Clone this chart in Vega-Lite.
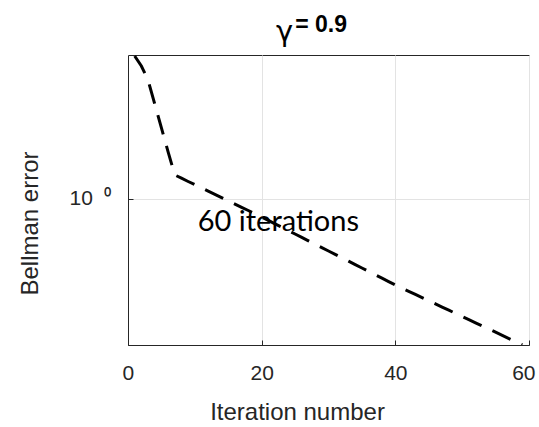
{
  "$schema": "https://vega.github.io/schema/vega-lite/v6.json",
  "width": 401,
  "height": 290,
  "autosize": "none",
  "padding": {"left": 128, "top": 55, "right": 10, "bottom": 82},
  "background": "white",
  "config": {
    "view": {"stroke": "#262626", "strokeWidth": 1},
    "font": "Liberation Sans"
  },
  "title": {
    "text": "γ",
    "subtitle": "\u200b\u00a0\u00a0\u00a0= 0.9",
    "anchor": "start",
    "frame": "group",
    "align": "left",
    "dx": 148,
    "font": "DejaVu Sans",
    "fontSize": 29,
    "fontWeight": "normal",
    "color": "#000000",
    "subtitleFont": "Liberation Sans",
    "subtitleFontSize": 23,
    "subtitleFontWeight": "bold",
    "subtitleColor": "#000000",
    "subtitlePadding": -33,
    "offset": 4
  },
  "datasets": {
    "curve": [
      {"iteration": 1, "error": 7.83},
      {"iteration": 2, "error": 6.78},
      {"iteration": 3, "error": 5.54},
      {"iteration": 4, "error": 3.93},
      {"iteration": 5, "error": 2.78},
      {"iteration": 6, "error": 1.97},
      {"iteration": 7, "error": 1.413},
      {"iteration": 8, "error": 1.349},
      {"iteration": 9, "error": 1.286},
      {"iteration": 10, "error": 1.229},
      {"iteration": 11, "error": 1.173},
      {"iteration": 12, "error": 1.119},
      {"iteration": 13, "error": 1.069},
      {"iteration": 14, "error": 1.02},
      {"iteration": 15, "error": 0.9744},
      {"iteration": 16, "error": 0.9292},
      {"iteration": 17, "error": 0.8873},
      {"iteration": 18, "error": 0.8474},
      {"iteration": 19, "error": 0.8082},
      {"iteration": 20, "error": 0.7718},
      {"iteration": 21, "error": 0.735},
      {"iteration": 22, "error": 0.6998},
      {"iteration": 23, "error": 0.6664},
      {"iteration": 24, "error": 0.6345},
      {"iteration": 25, "error": 0.6042},
      {"iteration": 26, "error": 0.5754},
      {"iteration": 27, "error": 0.5478},
      {"iteration": 28, "error": 0.5217},
      {"iteration": 29, "error": 0.4968},
      {"iteration": 30, "error": 0.4732},
      {"iteration": 31, "error": 0.4505},
      {"iteration": 32, "error": 0.429},
      {"iteration": 33, "error": 0.4085},
      {"iteration": 34, "error": 0.389},
      {"iteration": 35, "error": 0.3704},
      {"iteration": 36, "error": 0.3527},
      {"iteration": 37, "error": 0.3359},
      {"iteration": 38, "error": 0.3199},
      {"iteration": 39, "error": 0.3046},
      {"iteration": 40, "error": 0.2901},
      {"iteration": 41, "error": 0.2772},
      {"iteration": 42, "error": 0.2649},
      {"iteration": 43, "error": 0.2531},
      {"iteration": 44, "error": 0.2418},
      {"iteration": 45, "error": 0.2312},
      {"iteration": 46, "error": 0.221},
      {"iteration": 47, "error": 0.2112},
      {"iteration": 48, "error": 0.2018},
      {"iteration": 49, "error": 0.1929},
      {"iteration": 50, "error": 0.1843},
      {"iteration": 51, "error": 0.1762},
      {"iteration": 52, "error": 0.1683},
      {"iteration": 53, "error": 0.1609},
      {"iteration": 54, "error": 0.1538},
      {"iteration": 55, "error": 0.147},
      {"iteration": 56, "error": 0.1404},
      {"iteration": 57, "error": 0.1342},
      {"iteration": 58, "error": 0.1282},
      {"iteration": 59, "error": 0.1226}
    ],
    "note": [
      {"iteration": 22.5, "error": 0.718, "label": "60 iterations"}
    ]
  },
  "layer": [
    {
      "data": {"name": "curve"},
      "mark": {"type": "line", "color": "#000000", "strokeWidth": 3, "strokeDash": [20, 12], "clip": true},
      "encoding": {
        "x": {
          "field": "iteration",
          "type": "quantitative",
          "scale": {"domain": [0, 60], "nice": false, "zero": false},
          "axis": {
            "values": [0, 20, 40, 60],
            "title": "Iteration number",
            "titleFont": "Liberation Sans",
            "titleFontSize": 24,
            "titleFontWeight": "normal",
            "titleColor": "#262626",
            "titleX": 169,
            "titleY": 67,
            "titleBaseline": "middle",
            "titleAlign": "center",
            "labelFontSize": 21,
            "labelColor": "#262626",
            "labelPadding": 22,
            "labelFlush": true,
            "labelFlushOffset": 6,
            "tickSize": -5,
            "tickColor": "#262626",
            "domainColor": "#262626",
            "grid": true,
            "gridColor": "#e3e3e3"
          }
        },
        "y": {
          "field": "error",
          "type": "quantitative",
          "scale": {"type": "log", "domain": [0.1223, 7.943], "nice": false},
          "axis": {
            "values": [1],
            "labelExpr": "'10\u00a0\u00a0⁰'",
            "title": "Bellman error",
            "titleFont": "Liberation Sans",
            "titleFontSize": 24,
            "titleFontWeight": "normal",
            "titleColor": "#262626",
            "titleX": -98,
            "titleY": 168,
            "titleAngle": 270,
            "titleBaseline": "middle",
            "titleAlign": "center",
            "labelFontSize": 21,
            "labelColor": "#262626",
            "labelPadding": 22,
            "tickSize": -5,
            "tickColor": "#262626",
            "domainColor": "#262626",
            "grid": true,
            "gridColor": "#e3e3e3"
          }
        }
      }
    },
    {
      "data": {"name": "note"},
      "mark": {"type": "text", "font": "Lato", "fontSize": 29, "color": "#000000", "align": "center", "baseline": "middle"},
      "encoding": {
        "x": {"field": "iteration", "type": "quantitative"},
        "y": {"field": "error", "type": "quantitative"},
        "text": {"field": "label"}
      }
    }
  ]
}
